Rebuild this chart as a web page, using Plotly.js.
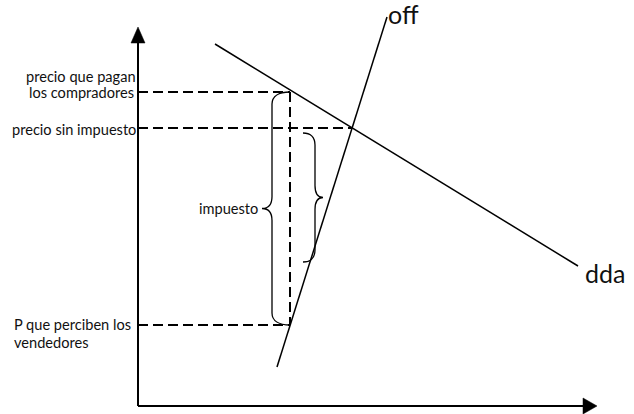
<!DOCTYPE html>
<html>
<head>
<meta charset="utf-8">
<script src="https://cdn.plot.ly/plotly-3.0.1.min.js"></script>
<style>html,body{margin:0;padding:0;background:#fff}#chart{width:634px;height:414px}</style>
</head>
<body>
<div id="chart"></div>
<script>
// ---- data (quantity on x, price on y; origin at the axes corner) ----
const demandQ = [77, 440];
const demandP = [362, 140];
const supplyQ = [139, 249];
const supplyP = [39, 389];
const priceBuyers = 314;   // precio que pagan los compradores
const priceNoTax = 278;    // precio sin impuesto
const priceSellers = 81;   // P que perciben los vendedores
const qTax = 152;          // cantidad con impuesto
const qEq = 214;           // cantidad de equilibrio
const smallBraceTop = 273;
const smallBraceBottom = 144;
const labelBuyers = ["precio que pagan", "los compradores"];
const labelNoTax = "precio sin impuesto";
const labelSellers = ["P que perciben los", "vendedores"];
const labelTax = "impuesto";
const labelSupply = "off";
const labelDemand = "dda";

const axisXEnd = 445, axisYEnd = 363;
const black = '#000';
const dashPat = '10px,5px';

function line(x, y, w, dash) {
  return {x: x, y: y, mode: 'lines', type: 'scatter', hoverinfo: 'skip',
    line: {color: black, width: w, dash: dash || 'solid'}, showlegend: false};
}
function tri(x, y) {
  return {x: x, y: y, mode: 'lines', type: 'scatter', fill: 'toself', fillcolor: black,
    line: {color: black, width: 0.5}, hoverinfo: 'skip', showlegend: false};
}
// curly brace path, vertical, between y0 (top) and y1 (bottom); dir=-1 tip to the left, +1 tip to right
function brace(xEnd, y0, y1, w, tip, dir) {
  const xb = xEnd + dir * w;
  const xt = xb + dir * tip;
  const ym = (y0 + y1) / 2;
  const r = 12;
  return 'M' + xEnd + ',' + y0 +
    ' C' + (xEnd + dir * w * 0.6) + ',' + y0 + ' ' + xb + ',' + (y0 - 4) + ' ' + xb + ',' + (y0 - r) +
    ' L' + xb + ',' + (ym + r) +
    ' C' + xb + ',' + (ym + 4) + ' ' + (xb + dir * tip * 0.3) + ',' + ym + ' ' + xt + ',' + ym +
    ' C' + (xb + dir * tip * 0.3) + ',' + ym + ' ' + xb + ',' + (ym - 4) + ' ' + xb + ',' + (ym - r) +
    ' L' + xb + ',' + (y1 + r) +
    ' C' + xb + ',' + (y1 + 4) + ' ' + (xEnd + dir * w * 0.6) + ',' + y1 + ' ' + xEnd + ',' + y1;
}

const traces = [
  // axes
  line([0, 0], [0, axisYEnd], 2),
  line([0, axisXEnd], [0, 0], 2),
  tri([-7, 7, 0, -7], [axisYEnd, axisYEnd, axisYEnd + 16, axisYEnd]),
  tri([axisXEnd, axisXEnd, axisXEnd + 14, axisXEnd], [8, -8, 0, 8]),
  // dashed guides
  line([0, qTax], [priceBuyers, priceBuyers], 2, dashPat),
  line([0, qEq], [priceNoTax, priceNoTax], 2, dashPat),
  line([0, qTax], [priceSellers, priceSellers], 2, dashPat),
  line([qTax, qTax], [priceBuyers, priceSellers], 2, dashPat),
  // curves
  line(demandQ, demandP, 1.5),
  line(supplyQ, supplyP, 1.5)
];

const font = 'Lato, "Open Sans", sans-serif';
function ann(text, x, y, xanchor, size) {
  return {text: text, x: x, y: y, xref: 'x', yref: 'y', xanchor: xanchor, yanchor: 'middle',
    showarrow: false, font: {family: font, size: size || 14.6, color: '#111'}};
}

const layout = {
  width: 634, height: 414,
  margin: {l: 0, r: 0, t: 0, b: 0},
  paper_bgcolor: '#fff', plot_bgcolor: '#fff',
  xaxis: {range: [-138, 496], visible: false, fixedrange: true},
  yaxis: {range: [-8, 406], visible: false, fixedrange: true},
  showlegend: false,
  shapes: [
    {type: 'path', xref: 'x', yref: 'y', path: brace(qTax, priceBuyers, priceSellers, 18, 10, -1),
      line: {color: black, width: 1.3}},
    {type: 'path', xref: 'x', yref: 'y', path: brace(qTax + 13, smallBraceTop, smallBraceBottom, 12, 8, 1),
      line: {color: black, width: 1.3}}
  ],
  annotations: [
    ann(labelBuyers[0], -57, 330, 'center'),
    ann(labelBuyers[1], -57, 314, 'center'),
    ann(labelNoTax, 0, 277, 'right'),
    ann(labelSellers[0], -126, 82, 'left'),
    ann(labelSellers[1], -126, 64, 'left'),
    ann(labelTax, 122, 198, 'right'),
    ann(labelSupply, 248, 392, 'left', 25),
    ann(labelDemand, 445, 133, 'left', 25)
  ]
};

Plotly.newPlot('chart', traces, layout, {staticPlot: true, displayModeBar: false});
</script>
</body>
</html>
